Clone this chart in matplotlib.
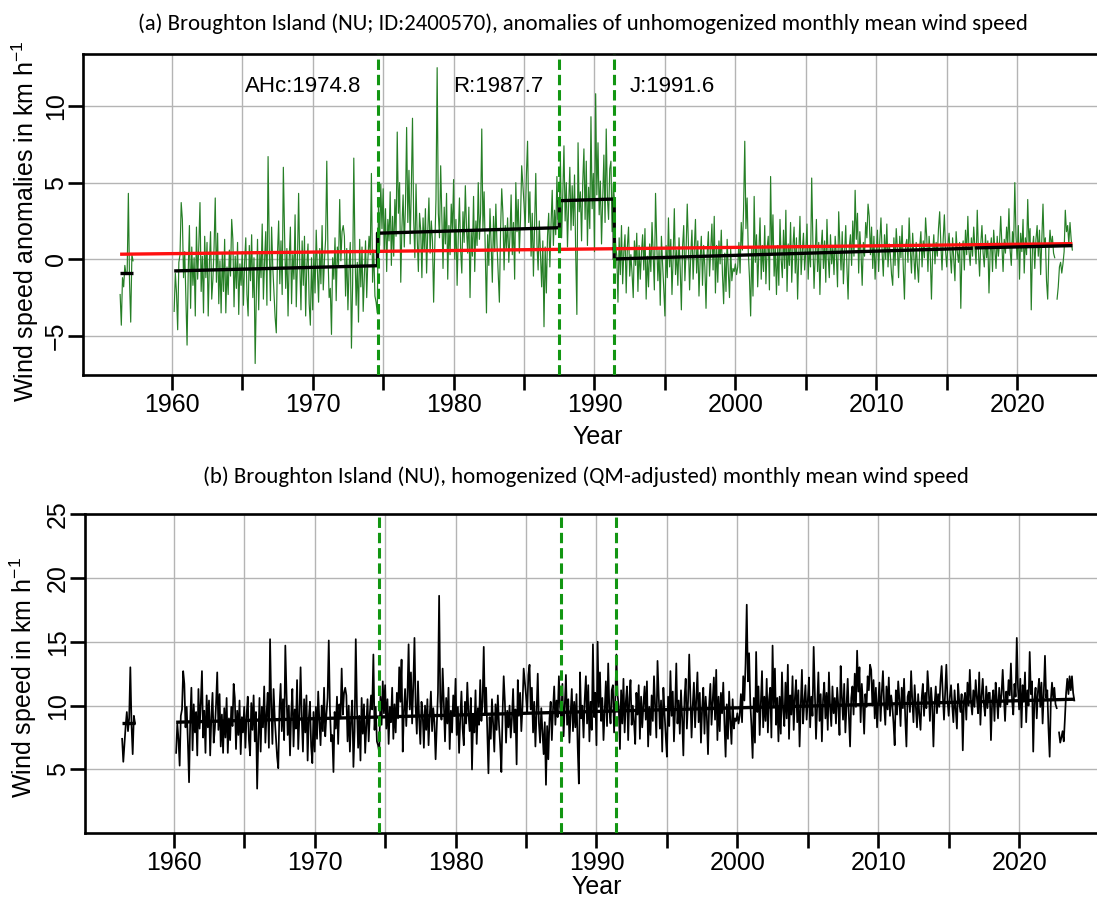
import numpy as np
import matplotlib
matplotlib.use("Agg")
import matplotlib.pyplot as plt

plt.rcParams['font.family'] = ['Liberation Sans', 'DejaVu Sans']
plt.rcParams['mathtext.fontset'] = 'custom'
plt.rcParams['mathtext.rm'] = 'Liberation Sans'
plt.rcParams['mathtext.default'] = 'regular'

nan = np.nan

# (a) anomalies of unhomogenized monthly mean wind speed, May 1956 - Apr 1957
anom_1956 = [-2.3, -4.3, -1.2, -1.8, -0.4, -1.0, -0.8, 4.3, -1.5, -4.1, 0.3, -0.1]

# (a) anomalies, monthly from Mar 1960 to Dec 2023 (one row per year)
anom = [
    -3.4, -0.9, -2.2, -4.6, -0.2, 0.3, 3.7, 2.6, -1.2, 0.5,
    -2.5, -5.6, -0.7, 2.2, -3.2, 0.8, -1.7, 0.1, -3.7, 2.1, -1.3, 0.9,
    3.7, -2.1, 0.2, -3.5, 1.5, -1.2, 1.1, -3.7, -0.3, 1.8, -2.6, -1.3,
    0.8, 4.0, -1.5, 1.7, -2.9, -0.1, -3.5, 0.4, -2.1, 1.3, -3.5, -0.5,
    -2.3, 0.6, -1.1, 2.6, 1.3, -3.1, 0.2, -1.9, 1.1, -3.6, -0.3, -1.7,
    0.5, -3.0, -0.2, 1.4, -2.3, -3.7, 0.9, -1.4, 1.6, -2.5, 0.1, -6.8,
    -2.2, 1.3, -3.3, 0.5, -1.2, 2.3, -2.6, -0.1, 1.8, -3.0, 6.7, 0.8,
    -2.7, 2.1, -0.5, -2.1, -3.8, -4.8, 0.3, 2.5, -1.6, 1.2, -2.3, 6.0,
    1.8, -1.9, 0.7, -3.7, 0.0, 2.1, -2.9, 0.3, -1.3, 2.9, -3.1, -0.2,
    4.3, -0.3, -3.3, 1.2, -1.7, 1.5, -3.7, -0.4, 1.0, -2.9, -4.3, 0.1,
    -3.3, 0.5, -2.2, 1.9, -0.7, -2.8, 0.7, -1.6, 2.2, -2.0, -0.1, 1.3,
    6.4, 0.3, -2.5, -1.9, -4.9, 0.1, -1.3, 1.4, -2.7, 0.8, -0.4, 3.9,
    -0.1, 1.8, 2.2, 1.5, -2.4, 0.7, -3.3, -0.5, 1.1, -5.8, -1.6, 6.6,
    0.5, -3.0, -0.2, -4.1, 1.3, -1.8, 0.8, -3.4, -1.1, 1.2, -2.5, 0.0,
    1.5, 0.3, 5.6, -1.5, 0.6, -2.4, -2.8, -3.5, 3.5, 0.9, 4.9, 2.0,
    4.6, 0.6, 3.3, -0.8, 2.6, 1.2, 4.4, -0.4, 2.8, 0.2, 3.9, 1.5,
    8.3, 3.0, 5.0, -1.5, 2.1, 4.2, 0.8, 3.5, 8.6, 2.4, 5.8, 1.0,
    4.6, 9.2, 2.6, 0.1, 4.9, 1.4, -0.8, 3.0, 1.9, -1.2, 2.7, 0.5,
    3.3, -0.9, 1.8, 4.0, 0.4, 2.5, 1.2, -2.8, 0.9, 3.9, 12.5, 3.0,
    1.4, 6.1, 2.9, -0.6, 3.4, 1.0, 4.3, -1.3, 2.2, 0.3, 3.6, 1.8,
    5.2, 0.0, 2.6, -1.7, 1.5, 4.0, 0.6, -0.9, 3.1, 1.1, 4.8, 2.0,
    0.4, 3.4, -2.5, 1.8, 0.2, 4.1, -0.8, 2.5, 0.9, 5.0, 1.3, 3.0,
    8.5, 2.0, 4.4, 0.6, -3.5, 1.6, -0.4, 3.3, 1.0, -1.5, 2.8, 0.5,
    3.6, 0.9, -1.0, -2.8, 1.9, 4.6, 3.0, -0.7, 2.2, 0.7, 2.7, -0.2,
    1.5, 4.2, 0.3, 2.4, -1.3, 5.0, 1.8, 3.9, 0.4, 2.6, 6.1, 4.8,
    3.6, 2.0, 5.5, 7.7, 2.4, 4.4, 0.2, 3.0, -1.1, 2.1, 5.6, 1.0,
    -0.7, 2.5, 0.4, -1.8, 1.2, -4.4, 0.8, -2.2, 1.5, 3.0, -0.5, 2.3,
    4.5, 0.9, 3.2, 1.6, 5.4, 2.6, 3.0, 6.5, 1.4, 4.2, 7.4, 2.5,
    5.0, 0.8, 3.6, 6.0, 1.9, 4.8, 2.2, 5.5, 0.4, -3.6, 7.6, 3.1,
    4.4, 1.2, 5.0, 7.2, 2.6, 6.4, 0.9, 4.7, 2.0, 9.3, 3.3, 5.6,
    0.5, 10.8, 4.2, 7.6, 2.9, 5.1, 1.0, 3.8, 6.8, 2.4, 8.5, 4.0,
    2.6, 5.9, 6.4, 1.8, 4.9, 3.9, 1.0, 0.2, -2.8, 1.4, -1.0, 2.2,
    -1.6, 0.5, 1.6, -2.2, 0.8, 2.1, -1.1, 0.3, -0.9, -2.5, 1.2, -0.4,
    1.7, -2.1, 0.9, -1.3, 0.4, 1.6, -0.7, 2.0, -2.6, 0.2, -1.8, 1.0,
    -0.8, 2.4, 0.3, -2.0, 4.3, 1.1, -1.4, 0.6, -3.0, 1.5, -0.3, -1.9,
    -3.7, 0.9, -1.2, 2.7, -0.5, 1.3, -2.3, 0.1, 3.3, -1.0, 0.6, -1.7,
    1.4, -0.6, -3.3, 0.8, 2.2, -1.4, 0.5, 3.6, 1.0, -2.0, 0.3, 1.9,
    -1.3, 0.7, 2.6, -0.9, 1.2, -2.4, 0.0, 1.5, -1.7, 0.9, -0.5, -3.2,
    0.4, 1.8, -1.1, 0.6, 2.3, -0.7, 2.8, -2.2, 0.9, -1.5, 1.2, -0.3,
    1.9, -1.0, -2.9, 0.4, -2.1, 1.3, -0.8, -2.5, 0.7, -1.4, -0.6, -0.8,
    -0.3, -1.0, -0.5, 1.1, -0.9, 2.4, 0.6, 3.3, 7.7, 2.0, 4.0, 0.5,
    -1.2, -3.7, 0.8, -2.4, 4.1, -0.2, 1.6, -1.8, 0.5, 2.7, -1.3, 0.9,
    -0.8, 2.2, -1.6, 0.7, 1.5, -2.0, 5.4, 0.3, 2.9, -1.1, 0.8, -2.3,
    0.9, -1.7, 2.6, 0.0, -1.2, 1.9, -0.6, 3.2, -2.1, 1.0, -0.4, 2.4,
    -1.5, 0.8, 2.1, -0.9, 1.4, -2.6, 0.3, 2.8, -1.0, 0.5, 1.7, -0.7,
    0.6, 2.3, -1.3, 0.9, -0.5, 5.3, 1.2, -1.9, 0.4, 2.6, -0.8, 1.1,
    -2.3, 0.7, 1.9, -0.6, 1.2, -1.5, 2.6, 0.2, -1.2, 1.6, -0.3, 0.8,
    -1.0, 1.5, 0.3, -1.8, 3.1, 0.9, -0.7, 1.8, -1.6, 0.4, 2.2, -0.5,
    -2.6, 0.8, 1.6, -0.4, 2.5, 0.2, 4.5, 1.3, 3.0, -0.9, 1.8, 0.4,
    -1.7, 1.1, 0.2, 2.4, 1.4, 3.6, 2.8, 0.3, 2.1, -0.6, 1.5, -1.3,
    0.5, 1.9, -0.8, 1.2, 2.7, 0.4, -1.1, 1.6, 0.0, 2.3, -0.5, 1.0,
    0.3, -1.0, -1.7, 1.4, -0.4, 2.0, 0.7, -1.2, 1.5, 0.1, 2.2, -0.6,
    -2.6, 0.9, 1.3, -0.2, 2.7, 0.6, -0.9, 1.7, 0.2, -1.3, 1.1, -0.4,
    -1.5, 0.8, 1.8, -0.5, 1.2, 0.1, 2.7, 1.4, -0.8, 1.5, 0.3, -2.6,
    0.4, 1.6, -0.3, 1.1, 0.2, 2.0, 3.1, 1.0, -0.7, 1.3, 2.9, 0.6,
    -0.5, 0.9, 1.7, 0.3, -0.9, 1.4, 0.0, -1.4, 1.8, 0.5, -0.2, 1.1,
    -3.2, 0.6, 1.2, -0.7, 1.9, 0.3, 2.8, 0.5, -0.4, 1.4, 0.2, 2.1,
    0.8, -0.3, 3.2, 0.6, -1.1, 1.0, 2.2, 0.4, -0.5, 1.6, 0.1, 1.2,
    -2.2, 0.5, 1.4, -0.8, 1.9, 0.7, -0.6, 1.5, 0.2, 1.1, 2.8, 0.9,
    -0.8, 1.3, 0.4, 2.1, 1.0, 3.3, 0.6, -0.4, 1.8, 0.9, 5.0, 1.5,
    0.0, 2.2, -1.3, 1.7, 0.5, 2.6, -0.9, 1.4, 0.3, 3.9, 1.1, 2.0,
    -3.3, 0.7, 1.5, -0.6, 1.3, 2.2, 0.2, 1.9, -1.0, 1.2, 3.6, 0.8,
    1.4, -1.4, -2.6, 0.6, 1.9, 0.8, 1.5, 0.4, 0.1, nan, -2.6, -1.8,
    -0.5, -0.2, -0.9, -0.3, 0.5, 3.2, 1.8, 2.2, 1.0, 2.4, 1.3, 0.6,
]

# (b) homogenized monthly mean wind speed (km/h), May 1956 - Apr 1957
speed_1956 = [7.4, 5.6, 7.0, 8.4, 9.5, 8.0, 9.0, 13.0, 8.5, 6.2, 9.2, 8.6]

# (b) homogenized wind speed, monthly from Mar 1960 to Dec 2023
speed = [
    6.3, 8.6, 7.4, 5.3, 9.2, 9.7, 12.7, 11.7, 8.3, 9.9,
    7.2, 4.0, 8.8, 11.4, 6.5, 10.1, 7.9, 9.5, 6.1, 11.3, 8.2, 10.2,
    12.7, 7.5, 9.6, 6.3, 10.8, 8.3, 10.4, 6.1, 9.1, 11.0, 7.1, 8.2,
    10.1, 12.6, 8.1, 10.9, 6.8, 9.3, 6.3, 9.8, 7.5, 10.6, 6.3, 9.0,
    7.3, 9.9, 8.4, 11.7, 10.6, 6.6, 9.6, 7.7, 10.4, 6.2, 9.1, 7.9,
    9.9, 6.7, 9.2, 10.7, 7.3, 6.1, 10.2, 8.1, 10.8, 7.2, 9.5, 3.5,
    7.4, 10.6, 6.4, 9.9, 8.3, 11.5, 7.1, 9.3, 11.0, 6.7, 15.2, 10.1,
    7.0, 11.3, 9.0, 7.5, 6.0, 5.1, 9.7, 11.7, 8.0, 10.5, 7.3, 14.7,
    11.0, 7.7, 10.0, 6.1, 9.4, 11.3, 6.8, 9.7, 8.2, 12.0, 6.6, 9.2,
    13.0, 9.1, 6.4, 10.5, 7.9, 10.8, 5.7, 9.0, 10.3, 6.8, 5.5, 9.5,
    6.4, 9.9, 7.4, 11.1, 8.8, 6.9, 10.0, 8.0, 11.4, 7.6, 9.3, 10.6,
    15.1, 9.7, 7.2, 7.7, 4.8, 9.5, 8.2, 10.7, 7.0, 10.1, 9.0, 12.9,
    9.3, 11.0, 11.4, 10.8, 7.2, 10.0, 6.4, 9.0, 10.4, 5.2, 8.0, 15.2,
    9.9, 6.7, 9.2, 5.7, 10.6, 7.8, 10.1, 6.3, 8.4, 10.5, 7.2, 9.4,
    10.8, 9.7, 14.0, 8.1, 9.9, 7.2, 6.9, 6.3, 10.7, 8.5, 11.9, 9.4,
    11.6, 8.2, 10.5, 7.0, 9.9, 8.7, 11.4, 7.4, 10.1, 7.9, 11.0, 9.0,
    13.0, 10.3, 13.6, 6.4, 9.5, 11.3, 8.4, 10.7, 14.8, 9.7, 12.6, 8.6,
    11.6, 15.3, 9.9, 7.8, 11.9, 8.9, 7.0, 10.3, 9.3, 6.7, 10.0, 8.1,
    10.5, 6.9, 9.2, 11.1, 8.0, 9.8, 8.7, 5.8, 8.5, 11.0, 18.6, 10.3,
    8.9, 12.9, 10.2, 7.2, 10.6, 8.6, 11.4, 6.6, 9.6, 7.9, 10.8, 9.2,
    12.1, 7.7, 9.9, 6.3, 9.0, 11.1, 8.2, 6.9, 10.3, 8.6, 11.8, 9.4,
    8.0, 10.6, 5.0, 9.2, 7.9, 11.2, 7.0, 9.8, 8.5, 12.0, 8.8, 10.3,
    14.6, 9.4, 11.4, 8.2, 4.7, 9.1, 7.4, 10.5, 8.6, 6.4, 10.1, 8.1,
    10.8, 8.5, 6.9, 4.8, 9.3, 12.3, 10.3, 7.1, 9.6, 8.3, 10.0, 7.5,
    9.0, 11.3, 7.9, 9.7, 5.4, 12.0, 9.2, 11.0, 8.0, 9.9, 12.9, 11.8,
    10.8, 9.4, 12.4, 13.2, 9.7, 11.4, 7.9, 10.3, 6.8, 9.5, 12.5, 8.6,
    7.1, 9.8, 8.0, 6.2, 8.7, 3.8, 8.4, 5.8, 9.0, 10.3, 7.3, 9.7,
    11.5, 8.5, 10.4, 9.1, 12.3, 9.9, 8.9, 11.7, 7.6, 9.9, 12.4, 8.5,
    10.5, 7.1, 9.4, 11.3, 8.0, 10.3, 8.3, 10.9, 6.8, 3.9, 12.6, 9.0,
    10.0, 7.5, 10.5, 12.3, 8.6, 11.6, 7.2, 10.3, 8.1, 14.8, 9.1, 11.0,
    6.9, 15.0, 9.9, 12.6, 8.8, 10.6, 7.3, 9.5, 11.9, 8.4, 13.3, 9.7,
    8.6, 11.2, 11.6, 7.9, 10.4, 14.0, 10.8, 9.9, 6.6, 11.2, 8.6, 12.1,
    7.9, 10.3, 11.5, 7.3, 10.6, 12.0, 8.5, 10.0, 8.7, 7.0, 11.0, 9.3,
    11.6, 7.4, 10.7, 8.3, 10.1, 11.5, 8.9, 11.9, 6.8, 9.9, 7.7, 10.8,
    8.8, 12.3, 10.0, 7.5, 13.5, 10.9, 8.2, 10.4, 6.4, 11.4, 9.4, 7.6,
    6.0, 10.7, 8.4, 12.7, 9.2, 11.1, 7.2, 9.8, 13.3, 8.6, 10.4, 7.8,
    11.2, 9.0, 6.1, 10.6, 12.1, 8.2, 10.3, 14.0, 10.8, 7.5, 10.0, 11.8,
    8.3, 10.5, 12.6, 8.7, 11.0, 7.1, 9.7, 11.4, 7.8, 10.7, 9.2, 6.2,
    10.1, 11.7, 8.5, 10.4, 12.2, 8.9, 12.8, 7.3, 10.7, 8.0, 11.0, 9.4,
    11.8, 8.6, 6.0, 10.1, 7.4, 11.1, 8.8, 7.0, 10.5, 8.2, 9.0, 8.8,
    9.4, 8.6, 9.2, 10.9, 8.7, 12.3, 10.4, 13.3, 17.9, 11.9, 14.1, 10.3,
    8.4, 5.9, 10.6, 7.1, 14.2, 9.5, 11.5, 7.7, 10.3, 12.7, 8.3, 10.7,
    8.8, 12.1, 7.9, 10.5, 11.4, 7.5, 14.7, 10.0, 12.9, 8.5, 10.6, 7.2,
    10.7, 7.8, 12.6, 9.7, 8.4, 11.8, 9.0, 13.2, 7.4, 10.8, 9.3, 12.3,
    8.1, 10.6, 12.0, 8.7, 11.2, 6.8, 10.0, 12.8, 8.6, 10.3, 11.6, 8.9,
    10.4, 12.2, 8.3, 10.7, 9.2, 14.6, 11.0, 7.4, 10.1, 12.6, 8.8, 10.9,
    7.2, 10.5, 11.8, 9.0, 11.0, 8.1, 12.6, 9.9, 8.4, 11.5, 9.4, 10.6,
    8.6, 11.4, 10.0, 7.7, 13.1, 10.7, 8.9, 11.7, 7.9, 10.1, 12.1, 9.2,
    6.8, 10.6, 11.5, 9.3, 12.5, 9.9, 14.3, 11.1, 13.0, 8.7, 11.7, 10.1,
    7.8, 10.9, 9.9, 12.3, 11.2, 13.2, 12.8, 10.0, 12.0, 9.0, 11.4, 8.3,
    10.3, 11.8, 8.8, 11.0, 12.7, 10.1, 8.5, 11.5, 9.7, 12.2, 9.2, 10.8,
    10.0, 8.6, 6.9, 11.2, 9.3, 11.9, 10.5, 8.4, 11.4, 9.8, 12.1, 9.0,
    6.8, 10.7, 11.1, 9.5, 12.7, 10.4, 8.7, 11.6, 9.9, 8.3, 10.9, 9.3,
    8.1, 10.6, 11.7, 9.2, 11.0, 9.8, 12.7, 11.2, 8.8, 11.4, 10.0, 6.8,
    10.1, 11.5, 9.4, 10.9, 9.9, 11.9, 13.1, 10.8, 8.9, 11.1, 13.2, 10.4,
    9.2, 10.7, 11.6, 10.0, 8.7, 11.2, 9.7, 8.2, 11.7, 10.3, 9.5, 10.9,
    6.5, 10.4, 11.0, 8.9, 11.8, 10.0, 12.8, 10.3, 9.3, 11.2, 9.9, 12.0,
    10.6, 9.4, 12.6, 8.5, 10.8, 12.1, 10.1, 9.2, 11.5, 9.8, 11.0, 11.0,
    7.3, 10.3, 11.2, 8.8, 11.8, 10.5, 9.0, 11.4, 9.9, 10.9, 12.8, 10.7,
    8.8, 11.1, 10.1, 12.0, 10.8, 13.3, 10.4, 9.3, 11.7, 10.7, 15.3, 11.4,
    9.7, 12.1, 8.3, 11.6, 10.3, 12.6, 8.7, 11.2, 10.0, 14.2, 10.9, 11.9,
    6.4, 10.5, 11.4, 9.0, 11.1, 12.1, 9.9, 11.8, 8.6, 11.0, 13.9, 10.6,
    11.2, 8.2, 6.0, 10.4, 11.8, 10.6, 11.4, 10.1, 9.8, nan, 7.9, 7.1,
    7.5, 8.0, 7.2, 9.0, 11.0, 12.1, 10.9, 12.3, 11.2, 12.3, 11.0, 10.4,
]

# segment means (black) of panel (a)
step56_t = [1956.33, 1957.25]
step56_v = [-0.87, -0.87]
step_t = [1960.17, 1974.6, 1974.6, 1987.5, 1987.5, 1991.4, 1991.4, 2016.85, nan, 2017.0, 2023.92]
step_v = [-0.76, -0.42, 1.70, 2.06, 3.82, 3.93, 0.02, 0.72, nan, 0.74, 0.89]
# overall trend (red) of panel (a)
red_t = [1956.33, 2023.92]
red_v = [0.33, 1.02]
# trend of panel (b)
trend56_t = [1956.33, 1957.25]
trend56_v = [8.6, 8.6]
trend_t = [1960.17, 2016.85, nan, 2017.0, 2023.92]
trend_v = [8.7, 10.3, nan, 10.3, 10.5]

# detected changepoints
breaks = [1974.6, 1987.5, 1991.4]
break_labels = ['AHc:1974.8', 'R:1987.7', 'J:1991.6']
break_label_x = [1969.3, 1983.2, 1995.5]

assert len(anom) == len(speed) == 766, (len(anom), len(speed))

t56 = 1956 + (4 + np.arange(len(anom_1956))) / 12
t = 1960 + (2 + np.arange(len(anom))) / 12

GREEN = '#267f26'
DASH = '#129612'

fig = plt.figure(figsize=(10.97, 8.98), dpi=100)
ax1 = fig.add_axes([0.0757, 0.5824, 0.9377, 0.3571])
ax2 = fig.add_axes([0.0775, 0.0720, 0.9377, 0.3556])

# panel (a)
ax1.plot(t56, anom_1956, color=GREEN, lw=0.85, zorder=2)
ax1.plot(t, anom, color=GREEN, lw=0.85, zorder=2)
ax1.plot(red_t, red_v, color='#ff1010', lw=2.4, zorder=3, solid_capstyle='butt')
ax1.plot(step56_t, step56_v, color='black', lw=2.4, zorder=4, solid_capstyle='butt')
ax1.plot(step_t, step_v, color='black', lw=2.4, zorder=4, solid_capstyle='butt')
for x, lab, lx in zip(breaks, break_labels, break_label_x):
    ax1.axvline(x, color=DASH, lw=2.2, dashes=(3.4, 1.6), zorder=5)
    ax1.text(lx, 11.3, lab, ha='center', va='center', fontsize=16)
ax1.set_ylim(-7.55, 13.37)
ax1.set_yticks([-5, 0, 5, 10])

# panel (b)
ax2.plot(t56, speed_1956, color='black', lw=1.25, zorder=2)
ax2.plot(t, speed, color='black', lw=1.25, zorder=2)
ax2.plot(trend56_t, trend56_v, color='black', lw=2.4, zorder=4, solid_capstyle='butt')
ax2.plot(trend_t, trend_v, color='black', lw=2.4, zorder=4, solid_capstyle='butt')
for x in breaks:
    ax2.axvline(x, color=DASH, lw=2.2, dashes=(3.4, 1.6), zorder=5)
ax2.set_ylim(0, 25)
ax2.set_yticks([5, 10, 15, 20, 25])

years = list(range(1960, 2021, 5))
for ax in (ax1, ax2):
    ax.set_xlim(1953.70, 2026.71)
    ax.set_xticks(years)
    ax.set_xticklabels([str(y) if y % 10 == 0 else '' for y in years])
    ax.grid(True, color='#b4b4b4', lw=1.0)
    ax.set_axisbelow(True)
    ax.spines['right'].set_visible(False)
    for s in ('left', 'top', 'bottom'):
        ax.spines[s].set_linewidth(1.9)
    ax.tick_params(length=11, width=1.9, labelsize=18, pad=2)
    ax.tick_params(axis='y', pad=0)
    for lab in ax.get_yticklabels():
        lab.set_rotation(90)
        lab.set_va('center')

ax1.set_xlabel('Year', fontsize=18, va='center')
ax1.xaxis.set_label_coords(0.5, -0.193)
ax1.set_ylabel('Wind speed anomalies in km h$^{-1}$', fontsize=18, va='center')
ax1.yaxis.set_label_coords(-0.0565, 0.48)

ax2.set_xlabel('Year', fontsize=18, va='center')
ax2.xaxis.set_label_coords(0.497, -0.168)
ax2.set_ylabel('Wind speed in km h$^{-1}$', fontsize=18, va='center')
ax2.yaxis.set_label_coords(-0.0600, 0.488)

title_a = '(a) Broughton Island (NU; ID:2400570), anomalies of unhomogenized monthly mean wind speed'
title_b = '(b) Broughton Island (NU), homogenized (QM-adjusted) monthly mean wind speed'
title_font = ['Carlito', 'Lato', 'DejaVu Sans']
ta = fig.text(583 / 1097, 1 - 23.3 / 898, title_a, ha='center', va='center',
              family=title_font, fontsize=16)
tb = fig.text(586 / 1097, 1 - 476.7 / 898, title_b, ha='center', va='center',
              family=title_font, fontsize=16)
# fit the title size to the width it has in the original
fig.canvas.draw()
w = ta.get_window_extent().width
fs = 16 * 893 / w
ta.set_fontsize(fs)
tb.set_fontsize(fs)

fig.savefig('out.png', dpi=100)
